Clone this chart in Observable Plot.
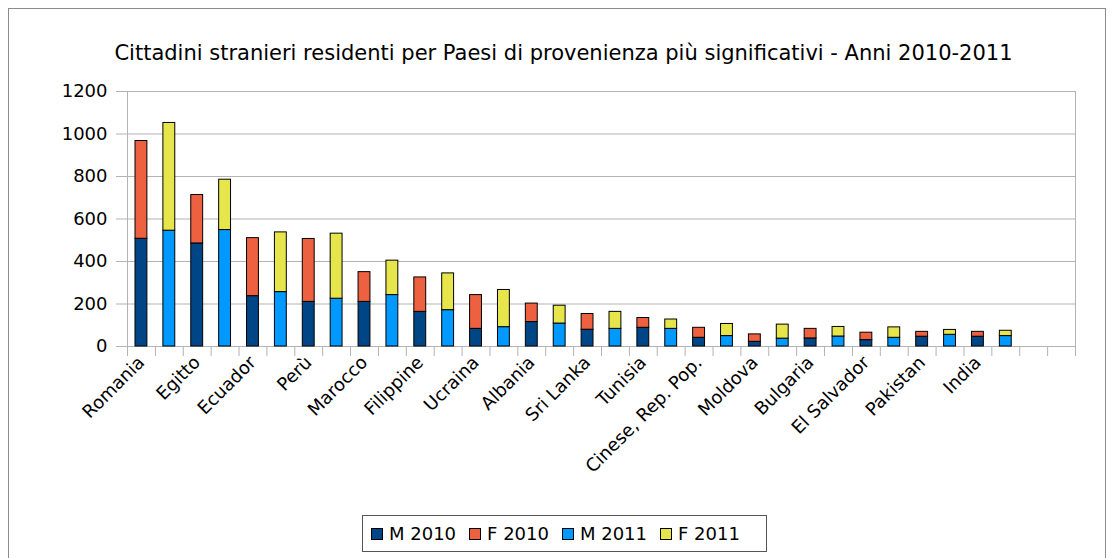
<!DOCTYPE html>
<html>
<head>
<meta charset="utf-8">
<script src="https://cdn.jsdelivr.net/npm/d3@7"></script>
<script src="https://cdn.jsdelivr.net/npm/@observablehq/plot@0.6"></script>
<style>
  body { margin: 0; background: #fff; font-family: "DejaVu Sans", sans-serif; }
  #wrap { position: relative; width: 1114px; height: 558px; overflow: hidden; background: #fff; }
  #border { position: absolute; left: 8px; top: 8px; width: 1098px; height: 600px; border: 1px solid #8c8c8c; box-sizing: border-box; }
  #chart { position: absolute; left: 0; top: 0; }
  #title { position: absolute; left: 0; top: 43px; width: 1127px; text-align: center; font-size: 21px; line-height: 21px; color: #000; white-space: nowrap; }
  #legend { position: absolute; left: 362px; top: 515px; width: 405px; height: 37px; border: 1px solid #555; box-sizing: border-box; display: flex; align-items: center; padding-left: 8px; font-size: 18px; color: #000; }
  .item { display: flex; align-items: center; margin-right: 13px; white-space: nowrap; }
  .sw { width: 12px; height: 12px; border: 1px solid #000; box-sizing: border-box; margin-right: 6px; }
</style>
</head>
<body>
<div id="wrap">
  <div id="border"></div>
  <div id="chart"></div>
  <div id="title"></div>
  <div id="legend"></div>
</div>
<script>
const titleText = "Cittadini stranieri residenti per Paesi di provenienza più significativi - Anni 2010-2011";
const countries = ["Romania","Egitto","Ecuador","Perù","Marocco","Filippine","Ucraina","Albania","Sri Lanka","Tunisia","Cinese, Rep. Pop.","Moldova","Bulgaria","El Salvador","Pakistan","India"];
const m2010 = [507,485,237,210,210,163,83,115,79,88,41,22,38,30,46,46];
const f2010 = [460,228,273,296,140,162,159,87,74,46,47,35,45,35,23,23];
const m2011 = [545,548,256,225,242,171,91,108,83,83,49,37,47,41,55,49];
const f2011 = [507,237,281,306,162,173,175,84,80,44,57,66,45,49,23,25];
const seriesNames = ["M 2010","F 2010","M 2011","F 2011"];
const seriesColors = ["#004586","#ed6040","#0099ff","#e6e64c"];
const yTicks = [0,200,400,600,800,1000,1200];
const emptySlots = ["vuoto1","vuoto2"];

// slots: two bars per country plus two empty categories at the end
const slots = [];
countries.forEach(c => { slots.push(c + "|2010"); slots.push(c + "|2011"); });
emptySlots.forEach(s => slots.push(s));

const rows = [];
countries.forEach((c, i) => {
  rows.push({slot: c + "|2010", series: seriesNames[0], value: m2010[i]});
  rows.push({slot: c + "|2010", series: seriesNames[1], value: f2010[i]});
  rows.push({slot: c + "|2011", series: seriesNames[2], value: m2011[i]});
  rows.push({slot: c + "|2011", series: seriesNames[3], value: f2011[i]});
});

const W = 1114, H = 558, ML = 127, MR = 39, MT = 91, MB = 212;
const bw = (W - ML - MR) / slots.length;
const gray = "#b3b3b3";

const chart = Plot.plot({
  width: W, height: H,
  marginLeft: ML, marginRight: MR, marginTop: MT, marginBottom: MB,
  style: {fontFamily: "DejaVu Sans", fontSize: "18px", color: "#000", background: "transparent"},
  x: {type: "band", domain: slots, padding: 0, label: null},
  y: {domain: [0, 1200], label: null},
  color: {domain: seriesNames, range: seriesColors},
  marks: [
    Plot.gridY(yTicks, {stroke: gray, strokeOpacity: 1}),
    Plot.frame({stroke: gray}),
    Plot.axisY(yTicks, {tickSize: 11, tickFormat: () => "", stroke: gray, label: null}),
    Plot.axisY(yTicks, {tickSize: 0, tickPadding: 20, fontSize: 18, tickFormat: d => String(d), label: null}),
    Plot.axisX(slots, {tickSize: 10, tickFormat: () => "", stroke: gray, dx: -bw / 2, label: null}),
    Plot.axisX([slots[slots.length - 1]], {tickSize: 10, tickFormat: () => "", stroke: gray, dx: bw / 2, label: null}),
    Plot.axisX(slots, {tickSize: 0, tickPadding: 13, tickRotate: -45, fontSize: 18, label: null,
      tickFormat: d => d.endsWith("|2010") ? d.split("|")[0] : ""}),
    Plot.barY(rows, {x: "slot", y: "value", fill: "series", stroke: "#000", strokeWidth: 1, insetLeft: 8, insetRight: 8})
  ]
});
document.getElementById("chart").appendChild(chart);
document.getElementById("title").textContent = titleText;

const legend = document.getElementById("legend");
seriesNames.forEach((s, i) => {
  const it = document.createElement("div");
  it.className = "item";
  const sw = document.createElement("div");
  sw.className = "sw";
  sw.style.background = seriesColors[i];
  const t = document.createElement("span");
  t.textContent = s;
  it.appendChild(sw); it.appendChild(t);
  legend.appendChild(it);
});
</script>
</body>
</html>
